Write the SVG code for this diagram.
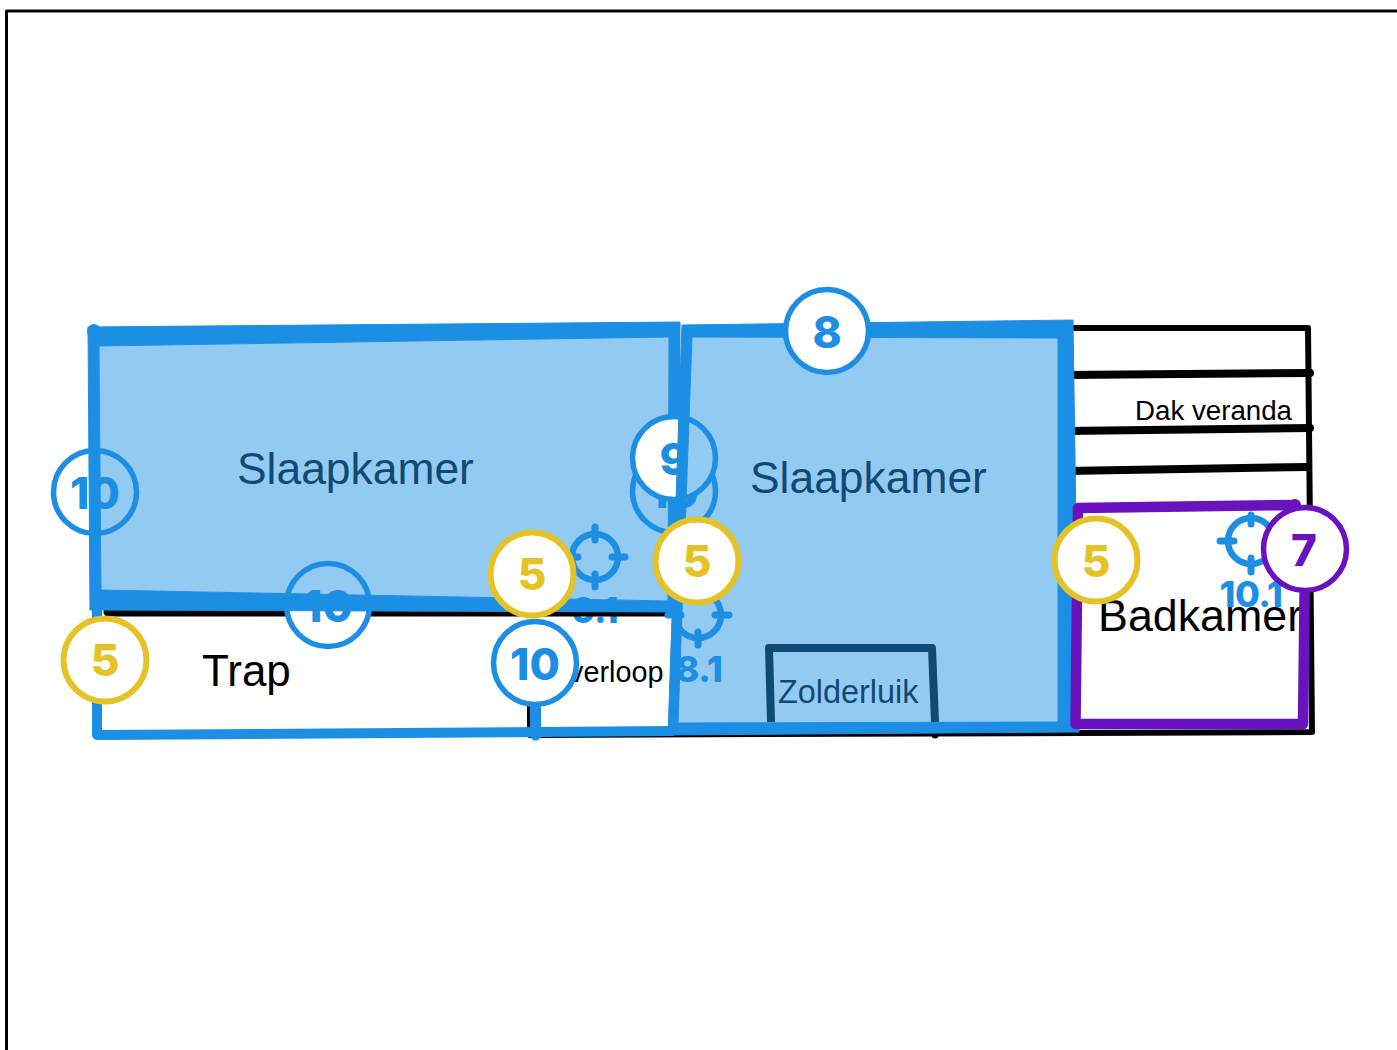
<svg xmlns="http://www.w3.org/2000/svg" width="1397" height="1050" viewBox="0 0 1397 1050">
<style>
text{font-family:"Liberation Sans",Arial,sans-serif}
.ln{fill:none;stroke-linecap:round;stroke-linejoin:round}
.k{stroke:#000}
.b{stroke:#1c8fe4}
.fill{fill:#1e90e2;fill-opacity:.48}
.ring{fill:#1c8fe4;fill-rule:evenodd;stroke:#1c8fe4;stroke-width:1;stroke-linejoin:round}
.badge{fill:#fff;stroke-width:5.5}
.num{font-family:Inter,"Liberation Sans",sans-serif;font-weight:800;font-size:44px;text-anchor:middle}
.sub{font-size:36px;letter-spacing:-0.5px}
.cb{stroke:#1c8fe4}.cy{stroke:#e5c327;stroke-width:6}.cp{stroke:#6a12bd}
.tb{fill:#1c8fe4}.ty{fill:#e5c327}.tp{fill:#6a12bd}
.ch{fill:none;stroke:#1c8fe4;stroke-width:6.500}
.tick{fill:none;stroke:#1c8fe4;stroke-width:7;stroke-linecap:round}
.dark{fill:#0f4a75}
</style>
<g id="frame"><path class="ln k" d="M6.500 1050V11H1397" stroke-width="3" style="stroke-linecap:butt"/></g>
<g id="target-9-1-label"><text class="num tb sub" x="595" y="623">9.1</text></g>
<g id="connectors">
<path class="ln k" stroke-width="6" d="M1065 328H1308L1312 732L530 735M530 700V735"/>
<path class="ln k" stroke-width="8" d="M1065 375L1310 373M1065 431L1310 428M1065 471L1307 467"/>
<path class="ln k" stroke-width="9" d="M108 612H672"/>
<circle cx="935" cy="735" r="3.500"/>
</g>
<g id="badge-10-left"><circle class="badge cb" cx="95" cy="492" r="41.500"/><text class="num tb" x="95" y="509">10</text></g>
<g id="badge-10-bottom"><circle class="badge cb" cx="328" cy="605" r="41.500"/><text class="num tb" x="328" y="622">10</text></g>
<g id="badge-10-mid"><circle class="badge cb" cx="674" cy="491" r="41.500"/><text class="num tb" x="674" y="508">10</text></g>
<g id="room-left">
<path class="fill" d="M99 346L669 337L668 601L101 590Z"/>
<path class="ring" d="M88 327L680 322L680 612L90 610ZM99 346L101 590L668 601L669 337Z"/>
<circle class="tb" cx="94" cy="331" r="7"/>
<text x="237" y="484" class="dark" font-size="44.400">Slaapkamer</text>
</g>
<g id="badge-9"><circle class="badge cb" cx="674" cy="458" r="41.500"/><text class="num tb" x="674" y="475">9</text></g>
<g id="room-right">
<path class="fill" d="M692 337L1058 338L1058 722L678 723Z"/>
<path class="ring" d="M682 325L1073 320L1079 732L668 735ZM692 337L678 723L1058 722L1058 338Z"/>
<text x="750" y="493" class="dark" font-size="44.400">Slaapkamer</text>
</g>
<g id="zolderluik"><path fill="none" stroke="#0f4a75" stroke-width="8" stroke-linejoin="round" d="M771 722L769 648L932 648L935 722"/><text x="778" y="703" class="dark" font-size="32.400">Zolderluik</text></g>
<g id="trap"><path class="ln b" stroke-width="10" d="M97 605V735L672 731"/><text x="202" y="686" font-size="44">Trap</text></g>
<g id="overloop"><text x="663.500" y="682" text-anchor="end" font-size="28.800">Overloop</text><path class="ln b" stroke-width="11" d="M535.500 700V735"/></g>
<g id="target-9-1"><circle class="ch" cx="595" cy="557" r="23"/><path class="tick" d="M595 527V540M595 574V587M565 557H578M612 557H625"/></g>
<g id="target-8-1"><circle class="ch" cx="698" cy="615" r="23"/><path class="tick" d="M698 632V645M668 615H681M715 615H729"/><text class="num tb sub" x="699" y="682">8.1</text></g>
<g id="room-bad"><text x="1098" y="631" font-size="44.800">Badkamer</text><path class="ln" stroke="#6a12bd" stroke-width="10.500" d="M1078 508L1295 505L1305 560L1303 724H1075.500Z"/><circle class="tp" cx="1295" cy="505" r="6"/></g>
<g id="target-10-1"><circle class="ch" cx="1251" cy="541" r="23"/><path class="tick" d="M1251 515V524M1251 558V572M1220 541H1234"/><text class="num tb sub" x="1251" y="607">10.1</text></g>
<text x="1135" y="419.500" font-size="27.700">Dak veranda</text>
<g id="badge-8"><circle class="badge cb" cx="827" cy="331" r="41.500"/><text class="num tb" x="827" y="348">8</text></g>
<g id="badge-10-door"><circle class="badge cb" cx="535" cy="663" r="41.500"/><text class="num tb" x="535" y="680">10</text></g>
<g id="badge-5-a"><circle class="badge cy" cx="532" cy="574" r="41.500"/><text class="num ty" x="532" y="590">5</text></g>
<g id="badge-5-b"><circle class="badge cy" cx="697" cy="561" r="41.500"/><text class="num ty" x="697" y="577">5</text></g>
<g id="badge-5-c"><circle class="badge cy" cx="105" cy="660" r="41.500"/><text class="num ty" x="105" y="676">5</text></g>
<g id="badge-5-d"><circle class="badge cy" cx="1096" cy="560" r="41.500"/><text class="num ty" x="1096" y="577">5</text></g>
<g id="badge-7"><circle class="badge cp" cx="1305" cy="549" r="41.500"/><text class="num tp" x="1304" y="566">7</text></g>
</svg>
